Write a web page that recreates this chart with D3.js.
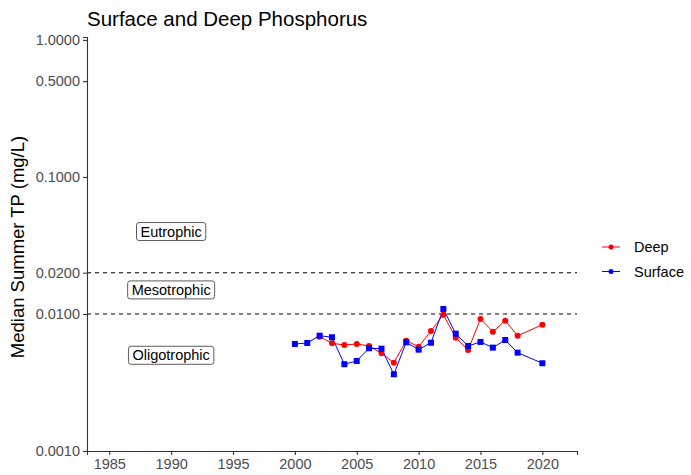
<!DOCTYPE html>
<html>
<head>
<meta charset="utf-8">
<script src="https://cdnjs.cloudflare.com/ajax/libs/d3/7.8.5/d3.min.js"></script>
<style>
body { margin: 0; background: #fff; }
svg { font-family: "Liberation Sans", Arial, sans-serif; }
</style>
</head>
<body>
<div id="chart"></div>
<script>
// data
var surfaceYears = [2000,2001,2002,2003,2004,2005,2006,2007,2008,2009,2010,2011,2012,2013,2014,2015,2016,2017,2018,2020];
var surfaceTP = [0.00604,0.00614,0.00694,0.00676,0.00430,0.00454,0.00562,0.00558,0.00363,0.00621,0.00549,0.00617,0.01088,0.00718,0.00584,0.00625,0.00568,0.00646,0.00522,0.00437];
var deepYears = [2002,2003,2004,2005,2006,2007,2008,2009,2010,2011,2012,2013,2014,2015,2016,2017,2018,2020];
var deepTP = [0.00683,0.00611,0.00594,0.00604,0.00584,0.00516,0.00441,0.00638,0.00577,0.00751,0.00988,0.00671,0.00546,0.00919,0.00743,0.00894,0.00694,0.00835];
var yTicks = [0.001,0.01,0.02,0.1,0.5,1];
var xTicks = [1985,1990,1995,2000,2005,2010,2015,2020];
var thresholds = [0.01,0.02];
var zoneLabels = [{text:"Eutrophic", year:1990, tp:0.04},
                  {text:"Mesotrophic", year:1990, tp:0.015},
                  {text:"Oligotrophic", year:1990, tp:0.005}];
var seriesNames = ["Deep","Surface"];

var W = 691, H = 475;
var margin = {top: 37, right: 114, bottom: 24, left: 87};
var width = W - margin.left - margin.right,
    height = H - margin.top - margin.bottom;

var svg = d3.select("#chart").append("svg")
    .attr("width", W).attr("height", H);

var g = svg.append("g")
    .attr("transform", "translate(" + margin.left + "," + margin.top + ")");

var x = d3.scaleLinear().domain([1983.2, 2022.8]).range([0, width]);
var y = d3.scaleLog().domain([0.001, 1.05]).range([height, 0]);

// threshold lines
g.selectAll(".thr").data(thresholds).enter().append("line")
    .attr("x1", 0).attr("x2", width)
    .attr("y1", function(d){ return y(d); }).attr("y2", function(d){ return y(d); })
    .attr("stroke", "#000").attr("stroke-width", 1.1)
    .attr("stroke-dasharray", "4,4");

// axes
var xAxis = g.append("g")
    .attr("transform", "translate(0," + height + ")")
    .call(d3.axisBottom(x).tickValues(xTicks).tickFormat(d3.format("d")).tickSize(4).tickPadding(4));
var yAxis = g.append("g")
    .call(d3.axisLeft(y).tickValues(yTicks).tickFormat(d3.format(".4f")).tickSize(4).tickPadding(3));
[xAxis, yAxis].forEach(function(a){
  a.select(".domain").attr("stroke", "#333").attr("stroke-width", 1.1);
  a.selectAll(".tick line").attr("stroke", "#333").attr("stroke-width", 1.1);
  a.selectAll(".tick text").attr("fill", "#4d4d4d").style("font-size", "14.5px")
    .style("font-family", "'Liberation Sans', Arial, sans-serif");
});

// zone labels
zoneLabels.forEach(function(d){
  var lg = g.append("g").attr("transform", "translate(" + x(d.year) + "," + y(d.tp) + ")");
  var t = lg.append("text").text(d.text)
    .attr("text-anchor", "middle").attr("dy", "0.35em")
    .style("font-size", "14.5px").attr("fill", "#000");
  var bb = t.node().getBBox();
  lg.insert("rect", "text")
    .attr("x", bb.x - 4).attr("y", bb.y - 1)
    .attr("width", bb.width + 8).attr("height", bb.height + 2)
    .attr("rx", 2.5).attr("fill", "#fff").attr("stroke", "#333").attr("stroke-width", 0.8);
});

var line = d3.line().x(function(d){ return x(d[0]); }).y(function(d){ return y(d[1]); });
var deep = d3.zip(deepYears, deepTP);
var surf = d3.zip(surfaceYears, surfaceTP);

g.append("path").datum(deep).attr("d", line)
  .attr("fill", "none").attr("stroke", "#ff0000").attr("stroke-width", 1);
g.append("path").datum(surf).attr("d", line)
  .attr("fill", "none").attr("stroke", "#0000ff").attr("stroke-width", 1);

g.selectAll(".dp").data(deep).enter().append("circle")
  .attr("cx", function(d){ return x(d[0]); }).attr("cy", function(d){ return y(d[1]); })
  .attr("r", 3).attr("fill", "#ff0000");
g.selectAll(".sp").data(surf).enter().append("rect")
  .attr("x", function(d){ return x(d[0]) - 3; }).attr("y", function(d){ return y(d[1]) - 3; })
  .attr("width", 6).attr("height", 6).attr("fill", "#0000ff");

// title + y label
svg.append("text").attr("x", 87).attr("y", 26).text("Surface and Deep Phosphorus")
  .style("font-size", "20.5px").attr("fill", "#000");
svg.append("text")
  .attr("transform", "translate(24," + (margin.top + height / 2 + 3) + ") rotate(-90)")
  .attr("text-anchor", "middle")
  .text("Median Summer TP (mg/L)")
  .style("font-size", "18.5px").attr("fill", "#000");

// legend
var colors = ["#ff0000", "#0000ff"];
var leg = svg.append("g").attr("transform", "translate(602,247)");
seriesNames.forEach(function(n, i){
  var r = leg.append("g").attr("transform", "translate(0," + (i * 24.5) + ")");
  r.append("line").attr("x1", 0).attr("x2", 18).attr("stroke", colors[i]).attr("stroke-width", 1);
  r.append("circle").attr("cx", 9).attr("r", 2.5).attr("fill", colors[i]);
  r.append("text").attr("x", 32).attr("dy", "0.35em").text(n).style("font-size", "14.5px");
});
</script>
</body>
</html>
